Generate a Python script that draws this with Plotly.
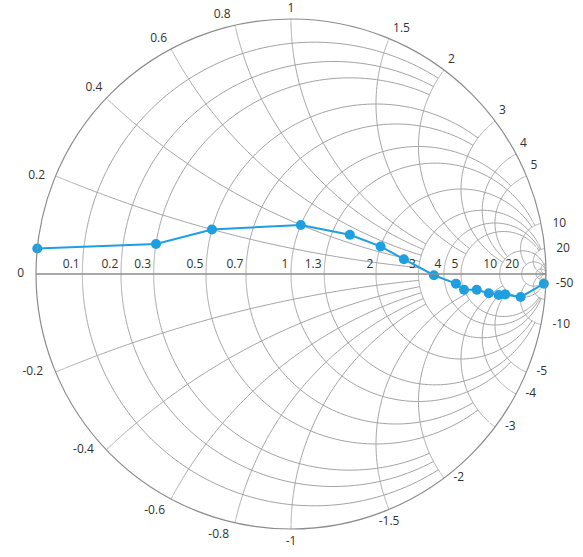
import numpy as np
import plotly.graph_objects as go

# ---- data: normalized impedance (resistance / reactance) ----
resistance = [0, 0.3, 0.5, 1, 1.5, 2, 2.55, 3.55, 4.6, 5, 6, 7, 8, 9, 10, 10]
reactance = [0.05, 0.1, 0.2, 0.4, 0.5, 0.5, 0.37, -0.05, -0.6, -1.15, -1.6, -2.7, -4, -5, -10, -50]

# ---- axis labels ----
real_labels = [0.1, 0.2, 0.3, 0.5, 0.7, 1, 1.3, 2, 3, 4, 5, 10, 20]
imag_labels = [0, 0.2, 0.4, 0.6, 0.8, 1, 1.5, 2, 3, 4, 5, 10, 20,
               -0.2, -0.4, -0.6, -0.8, -1, -1.5, -2, -3, -4, -5, -10, -50]

# ---- grid values: resistance circles and reactance arcs ----
grid_r = [0.1, 0.2, 0.3, 0.5, 0.7, 1, 1.3, 2, 3, 4, 5, 10, 20, 50]
grid_x = [0.2, 0.4, 0.6, 0.8, 1, 1.5, 2, 3, 4, 5, 10, 20, 50]

# where the grid lines stop (decluttered chart)
r_circle_end = {0.1: 2, 0.2: 2, 0.3: 2, 0.5: 3, 0.7: 3, 1: 5, 1.3: 10, 2: 10,
                3: 20, 4: 20, 5: 20, 10: 1e4, 20: 1e4, 50: 1e4}
x_arc_end = {0.2: 3, 0.4: 3, 0.6: 3, 0.8: 3, 1: 3, 1.5: 5, 2: 5, 3: 10, 4: 10,
             5: 10, 10: 20, 20: 1e4, 50: 1e4}

# label placement style (text position, padding in px)
imag_style = {
    0: ("middle left", 12), 0.2: ("middle left", 10.5), 0.4: ("top left", 4),
    0.6: ("top left", 4), 0.8: ("top left", 4.5), 1: ("top center", 4),
    1.5: ("top right", 4), 2: ("top right", 4), 3: ("top right", 4),
    4: ("top right", 4), 5: ("top right", 4), 10: ("middle right", 11.5),
    20: ("middle right", 11.5), -0.2: ("middle left", 12.5),
    -0.4: ("middle left", 12.5), -0.6: ("bottom left", 6), -0.8: ("bottom left", 6),
    -1: ("bottom center", 7), -1.5: ("bottom center", 7), -2: ("middle right", 9.5),
    -3: ("middle right", 10), -4: ("middle right", 9.5), -5: ("middle right", 10),
    -10: ("middle right", 11.5), -50: ("middle right", 10),
}

line_color = "#1E9FE0"
grid_color = "#a3a3a3"
axis_color = "#8c8c8c"
text_color = "#333333"
font_family = "Open Sans"

fig = go.Figure()

# constant-resistance circles
for r in grid_r:
    xe = r_circle_end[r]
    pos = np.logspace(-3, np.log10(xe), 260)
    xs = np.concatenate([-pos[::-1], [0], pos])
    fig.add_trace(go.Scattersmith(real=np.full_like(xs, r), imag=xs, mode="lines",
                                  line=dict(color=grid_color, width=1),
                                  hoverinfo="skip", showlegend=False))

# constant-reactance arcs
for x in grid_x:
    re = x_arc_end[x]
    rs = np.concatenate([[0], np.logspace(-3, np.log10(re), 300)])
    for s in (1, -1):
        fig.add_trace(go.Scattersmith(real=rs, imag=np.full_like(rs, s * x), mode="lines",
                                      line=dict(color=grid_color, width=1),
                                      hoverinfo="skip", showlegend=False))

# real-axis labels (on the horizontal line)
fig.add_trace(go.Scattersmith(
    real=real_labels, imag=[0] * len(real_labels), mode="markers+text",
    text=[f"{v:g}" for v in real_labels], textposition="top left",
    marker=dict(size=2.6, color="rgba(0,0,0,0)"),
    textfont=dict(family=font_family, size=12, color=text_color),
    cliponaxis=False, hoverinfo="skip", showlegend=False))

# imaginary-axis labels (around the outer circle)
fig.add_trace(go.Scattersmith(
    real=[0] * len(imag_labels), imag=imag_labels, mode="markers+text",
    text=[f"{v:g}" for v in imag_labels],
    textposition=[imag_style[v][0] for v in imag_labels],
    marker=dict(size=[max((imag_style[v][1] - 1) * 1.6, 0.5) for v in imag_labels],
                color="rgba(0,0,0,0)"),
    textfont=dict(family=font_family, size=12, color=text_color),
    cliponaxis=False, hoverinfo="skip", showlegend=False))

# data series
fig.add_trace(go.Scattersmith(
    real=resistance,
    imag=reactance,
    mode="lines+markers",
    line=dict(color=line_color, width=2),
    marker=dict(color=line_color, size=10),
    cliponaxis=False,
    showlegend=False,
))

fig.update_layout(
    width=583,
    height=557,
    margin=dict(l=36, r=37, t=19, b=28),
    paper_bgcolor="white",
    font=dict(family=font_family, size=12, color=text_color),
    smith=dict(
        domain=dict(x=[0, 1], y=[0, 1]),
        bgcolor="white",
        realaxis=dict(tickvals=[1], showticklabels=False, showgrid=False,
                      linecolor=axis_color, linewidth=1.5, ticks=""),
        imaginaryaxis=dict(tickvals=[1], showticklabels=False, showgrid=False,
                           linecolor=axis_color, linewidth=1.2, ticks=""),
    ),
)

fig.write_html("out.html")
